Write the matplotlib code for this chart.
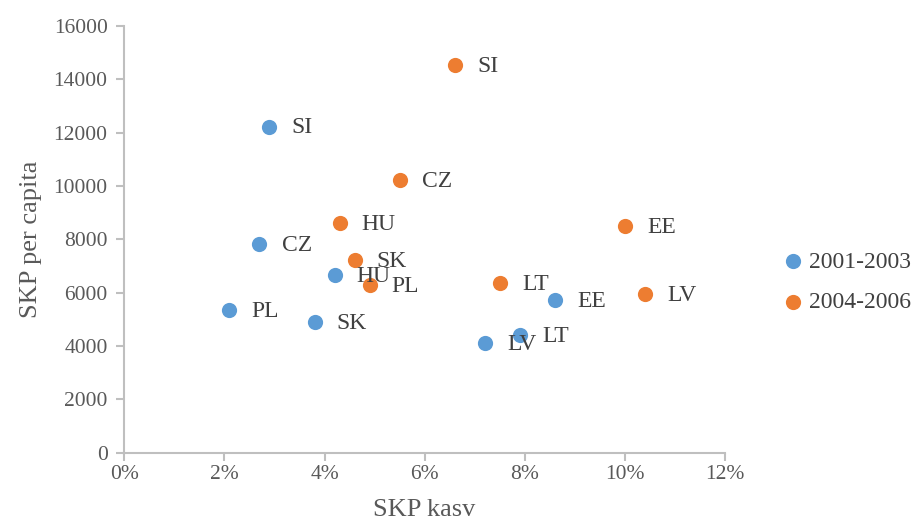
import matplotlib.pyplot as plt
from matplotlib.ticker import FuncFormatter

plt.rcParams['font.family'] = ['Liberation Serif', 'DejaVu Serif']

# SKP kasv (%), SKP per capita
countries_a = ["SI", "CZ", "HU", "PL", "SK", "LV", "LT", "EE"]
growth_a = [2.9, 2.7, 4.2, 2.1, 3.8, 7.2, 7.9, 8.6]
gdp_a = [12230, 7830, 6670, 5360, 4890, 4120, 4410, 5730]

countries_b = ["SI", "CZ", "HU", "SK", "PL", "LT", "EE", "LV"]
growth_b = [6.6, 5.5, 4.3, 4.6, 4.9, 7.5, 10.0, 10.4]
gdp_b = [14520, 10230, 8600, 7230, 6270, 6360, 8490, 5960]

series_names = ["2001-2003", "2004-2006"]
blue = "#5B9BD5"
orange = "#ED7D31"
grey_txt = "#595959"
axis_col = "#BFBFBF"

fig = plt.figure(figsize=(9.12, 5.29), dpi=100)
ax = fig.add_axes([0.1363, 0.1442, 0.6587, 0.8067])

ax.scatter(growth_a, gdp_a, s=120, color=blue, zorder=3, label=series_names[0], linewidths=0)
ax.scatter(growth_b, gdp_b, s=120, color=orange, zorder=3, label=series_names[1], linewidths=0)

for name, x, y in zip(countries_a, growth_a, gdp_a):
    ax.annotate(name, (x, y), xytext=(16, -1), textcoords="offset points",
                va="center", ha="left", fontsize=17, color="#404040")
for name, x, y in zip(countries_b, growth_b, gdp_b):
    ax.annotate(name, (x, y), xytext=(16, -1), textcoords="offset points",
                va="center", ha="left", fontsize=17, color="#404040")

ax.set_xlim(0, 12)
ax.set_ylim(0, 16000)
ax.set_xticks(range(0, 13, 2))
ax.set_yticks(range(0, 16001, 2000))
ax.xaxis.set_major_formatter(FuncFormatter(lambda v, p: f"{int(v)}%"))

for s in ["top", "right"]:
    ax.spines[s].set_visible(False)
for s in ["left", "bottom"]:
    ax.spines[s].set_color(axis_col)
    ax.spines[s].set_linewidth(1.5)
ax.tick_params(colors=axis_col, labelcolor=grey_txt, labelsize=15.5, width=1.5, length=6)
ax.tick_params(axis="x", pad=3)
ax.tick_params(axis="y", pad=6)

ax.set_xlabel("SKP kasv", fontsize=19, color=grey_txt, labelpad=11)
ax.set_ylabel("SKP per capita", fontsize=19, color=grey_txt, labelpad=8)

leg = fig.legend(loc="center left", bbox_to_anchor=(0.859, 0.467), frameon=False,
                 fontsize=17, handlelength=0.8, handletextpad=0.3, borderpad=0,
                 borderaxespad=0, labelspacing=0.8, scatterpoints=1)
for t in leg.get_texts():
    t.set_color("#404040")

fig.savefig("out.png", dpi=100)
